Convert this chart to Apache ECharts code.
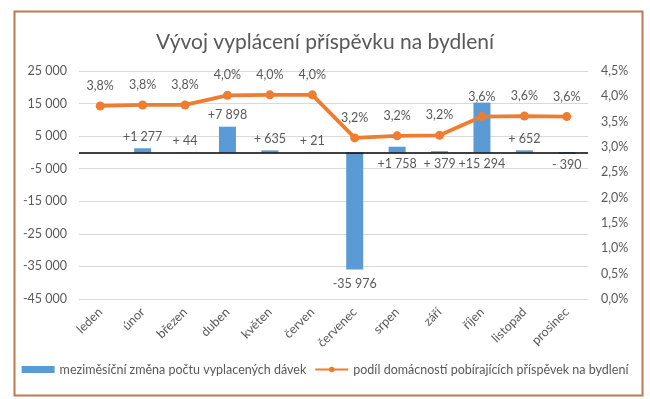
<!DOCTYPE html>
<html>
<head>
<meta charset="utf-8">
<script src="https://cdn.jsdelivr.net/npm/echarts@6/dist/echarts.min.js"></script>
<style>
html,body{margin:0;padding:0;background:#fff;}
#chart{width:650px;height:399px;}
</style>
</head>
<body>
<div id="chart"></div>
<script>
const categories = ['leden','únor','březen','duben','květen','červen','červenec','srpen','září','říjen','listopad','prosinec'];
const changeValues = [null, 1277, 44, 7898, 635, 21, -35976, 1758, 379, 15294, 652, -390];
const shareValues = [3.81, 3.83, 3.83, 4.02, 4.03, 4.03, 3.18, 3.22, 3.23, 3.60, 3.61, 3.60];
const seriesNames = ['meziměsíční změna počtu vyplacených dávek', 'podíl domácností pobírajících příspěvek na bydlení'];
const titleText = 'Vývoj vyplácení příspěvku na bydlení';

const FONT = 'Lato';
const TXT = '#595959';

function thousands(v) {
  const a = Math.abs(v);
  const s = a >= 1000 ? Math.floor(a / 1000) + ' ' + String(a % 1000).padStart(3, '0') : String(a);
  return (v < 0 ? '-' : '') + s;
}
function signed(v) {
  const a = Math.abs(v);
  const sign = v < 0 ? '-' : '+';
  if (a < 1000) return sign + ' ' + a;
  return sign + thousands(a);
}
const labelBelow = [6, 7, 8, 9, 11];

const barData = changeValues.map((v, i) => ({
  value: v,
  label: { position: labelBelow.includes(i) ? 'bottom' : 'top', distance: i === 6 ? 8 : 5 }
}));

const chart = echarts.init(document.getElementById('chart'), null, { renderer: 'canvas' });
chart.setOption({
  animation: false,
  backgroundColor: '#fff',
  textStyle: { fontFamily: FONT, color: TXT },
  title: {
    text: titleText, left: 'center', top: 27,
    textStyle: { fontFamily: FONT, fontSize: 21, fontWeight: 'normal', color: TXT }
  },
  graphic: [{
    type: 'rect', left: 12, top: 9, z: 100, silent: true,
    shape: { width: 628, height: 384 },
    style: { fill: 'none', stroke: '#b97a55', lineWidth: 2 }
  }],
  legend: {
    bottom: 18, left: 'center', itemGap: 8, itemWidth: 33, itemHeight: 7,
    textStyle: { fontFamily: FONT, fontSize: 12.5, color: TXT },
    data: [
      { name: seriesNames[0], icon: 'rect' },
      { name: seriesNames[1] }
    ]
  },
  grid: { left: 79, right: 62, top: 71, bottom: 100 },
  xAxis: {
    type: 'category', data: categories,
    axisLine: { show: false }, axisTick: { show: false },
    axisLabel: { rotate: 45, margin: 11, fontFamily: FONT, fontSize: 12.5, color: TXT, interval: 0 }
  },
  yAxis: [{
    type: 'value', min: -45000, max: 25000, interval: 10000,
    axisLine: { show: false }, axisTick: { show: false },
    splitLine: { lineStyle: { color: '#d9d9d9', width: 1 } },
    axisLabel: { formatter: v => thousands(v), fontFamily: FONT, fontSize: 12.5, color: TXT, margin: 12 }
  }, {
    type: 'value', min: 0, max: 4.5, interval: 0.5,
    axisLine: { show: false }, axisTick: { show: false }, splitLine: { show: false },
    axisLabel: { formatter: v => v.toFixed(1).replace('.', ',') + '%', fontFamily: FONT, fontSize: 12.5, color: TXT, margin: 13 }
  }],
  series: [{
    name: seriesNames[0], type: 'bar', yAxisIndex: 0, barWidth: 17,
    itemStyle: { color: '#5B9BD5' },
    data: barData,
    label: { show: true, formatter: p => signed(p.value), fontFamily: FONT, fontSize: 12.5, color: TXT },
    markLine: {
      silent: true, symbol: 'none', label: { show: false },
      lineStyle: { color: '#000', width: 1.5, type: 'solid' },
      data: [{ yAxis: 0 }]
    },
    z: 2
  }, {
    name: seriesNames[1], type: 'line', yAxisIndex: 1,
    data: shareValues,
    symbol: 'circle', symbolSize: 9,
    lineStyle: { color: '#ED7D31', width: 3.8 },
    itemStyle: { color: '#ED7D31' },
    label: { show: true, position: 'top', distance: 9, formatter: p => p.value.toFixed(1).replace('.', ',') + '%', fontFamily: FONT, fontSize: 12.5, color: TXT },
    z: 3
  }]
});
</script>
</body>
</html>
